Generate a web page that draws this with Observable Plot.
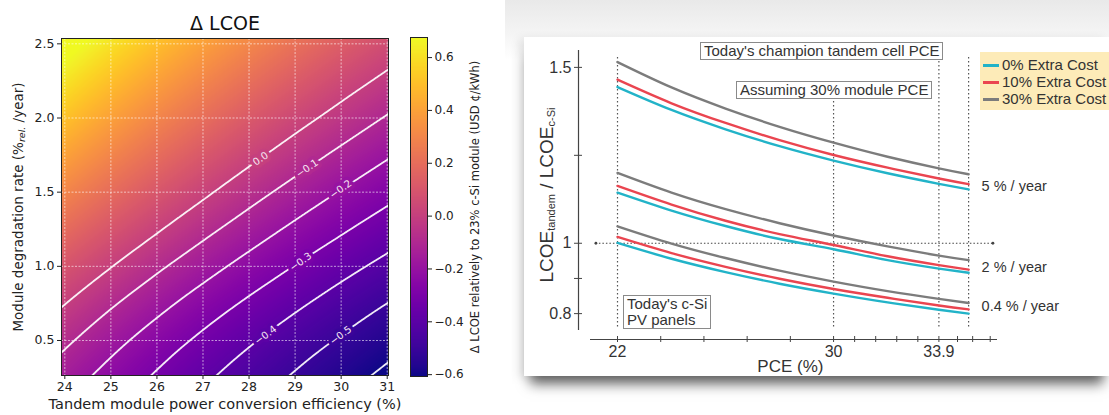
<!DOCTYPE html>
<html><head><meta charset="utf-8">
<script src="https://cdn.jsdelivr.net/npm/d3@7"></script>
<script src="https://cdn.jsdelivr.net/npm/@observablehq/plot@0.6"></script>
<style>
html,body{margin:0;padding:0;background:#fff;width:1109px;height:415px;overflow:hidden;position:relative}
.abs{position:absolute}
#rightbg{left:505px;top:0;width:604px;height:415px;background:linear-gradient(#e9e9e9 0px,#f3f3f3 30px,#fff 60px)}
#card{left:524px;top:37px;width:585px;height:339px;background:#fff;box-shadow:0 14px 12px -6px rgba(0,0,0,.6),-5px 2px 9px rgba(0,0,0,.10)}
.box{position:absolute;border:1px solid #8a8a8a;background:#fff;font:15px "Liberation Sans",Arial,sans-serif;color:#333;white-space:nowrap;line-height:16px;padding:0 3px}
.leg{position:absolute;left:980px;top:52px;width:140px;height:58px;background:#fdebb8}
.legrow{position:absolute;left:3px;font:15px "Liberation Sans",Arial,sans-serif;color:#333;white-space:nowrap;line-height:16px}
.legrow span{display:inline-block;width:16px;height:3px;vertical-align:middle;margin-right:3px;margin-top:-2px}
</style></head><body>
<div id="left" class="abs" style="left:0;top:0"></div>
<div id="cbar" class="abs" style="left:400px;top:0"></div>
<div id="rightbg" class="abs"></div>
<div id="card" class="abs"></div>
<div id="right" class="abs" style="left:524px;top:37px"></div>
<div id="annot"></div>
<script>
// ---------------- Left panel: Δ LCOE heat map ----------------
const leftTitle = "Δ LCOE";
const leftXLabel = "Tandem module power conversion efficiency (%)";
const effDomain = [23.928, 31.028];
const degDomain = [0.264, 2.536];
const effTicks = [24, 25, 26, 27, 28, 29, 30, 31];
const degTicks = [0.5, 1.0, 1.5, 2.0, 2.5];
const gridEff = [23, 24, 25, 26, 27, 28, 29, 30, 31, 32];
const gridDeg = [0.2, 0.45, 0.7, 0.95, 1.2, 1.45, 1.7, 1.95, 2.2, 2.45, 2.7];
// Δ LCOE (rows follow gridDeg, columns follow gridEff)
const dLCOE = [
  [-0.079, -0.168, -0.250, -0.326, -0.396, -0.461, -0.522, -0.579, -0.632, -0.681],
  [-0.005, -0.097, -0.182, -0.261, -0.334, -0.401, -0.464, -0.522, -0.577, -0.629],
  [ 0.081, -0.015, -0.104, -0.185, -0.261, -0.331, -0.396, -0.457, -0.514, -0.567],
  [ 0.177,  0.077, -0.015, -0.100, -0.178, -0.251, -0.319, -0.383, -0.442, -0.498],
  [ 0.281,  0.176,  0.080, -0.008, -0.090, -0.166, -0.237, -0.303, -0.365, -0.423],
  [ 0.387,  0.278,  0.178,  0.086,  0.001, -0.079, -0.153, -0.222, -0.286, -0.347],
  [ 0.495,  0.382,  0.278,  0.182,  0.093,  0.010, -0.067, -0.139, -0.206, -0.269],
  [ 0.605,  0.488,  0.379,  0.279,  0.187,  0.100,  0.020, -0.054, -0.124, -0.190],
  [ 0.717,  0.595,  0.482,  0.378,  0.282,  0.192,  0.109,  0.031, -0.041, -0.110],
  [ 0.831,  0.703,  0.586,  0.478,  0.378,  0.286,  0.199,  0.118,  0.043, -0.028],
  [ 0.945,  0.813,  0.692,  0.580,  0.476,  0.380,  0.290,  0.206,  0.128,  0.055]
];
const contourLevels = [-0.6, -0.5, -0.4, -0.3, -0.2, -0.1, 0.0];
const contourLabels = [
  {level: 0.0,  eff: 28.25, deg: 1.725, angle: -34},
  {level: -0.1, eff: 29.26, deg: 1.66,  angle: -35},
  {level: -0.2, eff: 29.99, deg: 1.52,  angle: -36},
  {level: -0.3, eff: 29.12, deg: 1.03,  angle: -36},
  {level: -0.4, eff: 28.36, deg: 0.536, angle: -37},
  {level: -0.5, eff: 29.99, deg: 0.535, angle: -37}
];
const cbarDomain = [-0.607, 0.676];
const cbarTicks = [-0.6, -0.4, -0.2, 0.0, 0.2, 0.4, 0.6];
const cbarLabel = "Δ LCOE relatively to 23% c-Si module (USD ¢/kWh)";

// smooth (Catmull-Rom) lookup into the read grid, used only to render the image
function gridAt(i, j) {
  const ni = gridDeg.length, nj = gridEff.length;
  if (i < 0) return 2 * gridAt(0, j) - gridAt(1, j);
  if (i >= ni) return 2 * gridAt(ni - 1, j) - gridAt(ni - 2, j);
  if (j < 0) return 2 * gridAt(i, 0) - gridAt(i, 1);
  if (j >= nj) return 2 * gridAt(i, nj - 1) - gridAt(i, nj - 2);
  return dLCOE[i][j];
}
function cr(p0, p1, p2, p3, t) {
  return 0.5 * (2 * p1 + (-p0 + p2) * t + (2 * p0 - 5 * p1 + 4 * p2 - p3) * t * t + (-p0 + 3 * p1 - 3 * p2 + p3) * t * t * t);
}
function lookup(x, y) {
  const nj = gridEff.length, ni = gridDeg.length;
  const fx = Math.max(0, Math.min(nj - 1, (x - gridEff[0]) / (gridEff[1] - gridEff[0])));
  const fy = Math.max(0, Math.min(ni - 1, (y - gridDeg[0]) / (gridDeg[1] - gridDeg[0])));
  const j0 = Math.min(nj - 2, Math.floor(fx)), i0 = Math.min(ni - 2, Math.floor(fy));
  const tx = fx - j0, ty = fy - i0;
  const rows = [-1, 0, 1, 2].map(r => cr(gridAt(i0 + r, j0 - 1), gridAt(i0 + r, j0), gridAt(i0 + r, j0 + 1), gridAt(i0 + r, j0 + 2), tx));
  return cr(rows[0], rows[1], rows[2], rows[3], ty);
}

const fmt1 = d3.format(".1f");
const colorOpts = {type: "sequential", scheme: "plasma", domain: cbarDomain, clamp: true};
const mplFont = "'DejaVu Sans', sans-serif";

const left = Plot.plot({
  width: 400, height: 415,
  marginLeft: 61, marginRight: 12, marginTop: 38, marginBottom: 40,
  style: {fontFamily: mplFont, fontSize: "12.5px", color: "#222", background: "transparent", overflow: "visible"},
  x: {domain: effDomain},
  y: {domain: degDomain},
  color: colorOpts,
  marks: [
    Plot.raster({fill: lookup, x1: effDomain[0], x2: effDomain[1], y1: degDomain[0], y2: degDomain[1], pixelSize: 1}),
    Plot.gridX(effTicks, {stroke: "white", strokeOpacity: 0.75, strokeDasharray: "2,1.5", strokeWidth: 0.8}),
    Plot.gridY(degTicks, {stroke: "white", strokeOpacity: 0.75, strokeDasharray: "2,1.5", strokeWidth: 0.8}),
    Plot.contour({value: lookup, thresholds: contourLevels,
      x1: 23.8, x2: 31.15, y1: 0.2, y2: 2.6, pixelSize: 1, fill: "none", stroke: "white",
      strokeWidth: 1.8, strokeOpacity: 0.92, clip: true}),
    Plot.text(contourLabels, {x: "eff", y: "deg", text: d => fmt1(d.level), rotate: "angle",
      fill: "#f6e6f2", stroke: "level", strokeWidth: 7, fontSize: 10, fontFamily: mplFont}),
    Plot.frame({stroke: "#222", strokeWidth: 1}),
    Plot.axisX(effTicks, {tickSize: 4, tickPadding: 3, fontSize: 12.5, label: null}),
    Plot.axisY(degTicks, {tickSize: 4, tickPadding: 3, fontSize: 12.5, tickFormat: fmt1, label: null}),
    Plot.text([leftTitle], {frameAnchor: "top", dy: -15, lineAnchor: "middle", textAnchor: "middle", fontSize: 19, fill: "#111"}),
    Plot.text([leftXLabel], {frameAnchor: "bottom", dy: 29, lineAnchor: "middle", textAnchor: "middle", fontSize: 14.5, fill: "#222"})
  ]
});
document.getElementById("left").appendChild(left);
{
  const svg = d3.select(left);
  const t = svg.append("text")
    .attr("transform", "translate(19,207) rotate(-90)")
    .attr("text-anchor", "middle").attr("dominant-baseline", "middle")
    .attr("font-family", "DejaVu Sans").attr("font-size", 13.5).attr("fill", "#222");
  t.append("tspan").text("Module degradation rate (%");
  t.append("tspan").attr("dy", 3).attr("font-size", 9.5).attr("font-style", "italic").text("rel.");
  t.append("tspan").attr("dy", -3).text(" /year)");
}

const cbar = Plot.plot({
  width: 105, height: 415,
  marginLeft: 10, marginRight: 78, marginTop: 37, marginBottom: 39,
  style: {fontFamily: mplFont, fontSize: "12px", color: "#222", background: "transparent", overflow: "visible"},
  x: {domain: [0, 1], axis: null},
  y: {domain: cbarDomain},
  color: colorOpts,
  marks: [
    Plot.raster({x1: 0, x2: 1, y1: cbarDomain[0], y2: cbarDomain[1], fill: (x, y) => y, pixelSize: 1}),
    Plot.frame({stroke: "#222", strokeWidth: 1}),
    Plot.axisY(cbarTicks, {anchor: "right", tickSize: 4, tickPadding: 3, fontSize: 12, tickFormat: fmt1, label: null}),
    Plot.text([cbarLabel], {frameAnchor: "right", dx: 48, rotate: -90, textAnchor: "middle", lineAnchor: "middle", fontSize: 11.5, fill: "#222"})
  ]
});
document.getElementById("cbar").appendChild(cbar);

// ---------------- Right panel: LCOE ratio vs PCE ----------------
const pce = [22, 24, 26, 28, 30, 32, 33.9, 35];
const rate5_cost0   = [1.444, 1.379, 1.324, 1.276, 1.235, 1.199, 1.169, 1.153];
const rate5_cost10  = [1.465, 1.398, 1.342, 1.293, 1.251, 1.215, 1.184, 1.168];
const rate5_cost30  = [1.515, 1.443, 1.383, 1.331, 1.286, 1.246, 1.213, 1.196];
const rate2_cost0   = [1.144, 1.093, 1.049, 1.012, 0.983, 0.952, 0.928, 0.916];
const rate2_cost10  = [1.163, 1.110, 1.064, 1.026, 0.995, 0.963, 0.938, 0.925];
const rate2_cost30  = [1.200, 1.144, 1.097, 1.057, 1.022, 0.991, 0.965, 0.952];
const rate04_cost0  = [1.001, 0.956, 0.918, 0.885, 0.857, 0.832, 0.811, 0.800];
const rate04_cost10 = [1.018, 0.972, 0.933, 0.899, 0.870, 0.845, 0.823, 0.812];
const rate04_cost30 = [1.048, 0.999, 0.958, 0.922, 0.891, 0.864, 0.842, 0.830];
const costLabels = ["0% Extra Cost", "10% Extra Cost", "30% Extra Cost"];
const costColors = ["#22b3c8", "#ea4550", "#7c7c7c"];
const rateLabels = ["5 % / year", "2 % / year", "0.4 % / year"];
const rateLabelY = [1.162, 0.932, 0.821];
const yTicks = [0.8, 0.9, 1, 1.25, 1.5];
const yTickText = {0.8: "0.8", 1: "1", 1.5: "1.5"};
const xTicks = [22, 23.6, 25.2, 26.8, 28.4, 30, 30.78, 31.56, 32.34, 33.12, 33.9, 34.59, 35.15, 35.8];
const xTickText = {22: "22", 30: "30", 33.9: "33.9"};
const refPCE = [22, 30, 33.9, 35];
const refTop = [1.528, 1.409, 1.52, 1.528];
const rightXLabel = "PCE (%)";

const seriesTable = [
  [rateLabels[0], costLabels[0], rate5_cost0], [rateLabels[0], costLabels[1], rate5_cost10], [rateLabels[0], costLabels[2], rate5_cost30],
  [rateLabels[1], costLabels[0], rate2_cost0], [rateLabels[1], costLabels[1], rate2_cost10], [rateLabels[1], costLabels[2], rate2_cost30],
  [rateLabels[2], costLabels[0], rate04_cost0], [rateLabels[2], costLabels[1], rate04_cost10], [rateLabels[2], costLabels[2], rate04_cost30]
];
const lineData = seriesTable.flatMap(([rate, cost, vals]) =>
  pce.map((x, i) => ({pce: x, ratio: vals[i], cost, key: rate + "|" + cost})));
const refData = refPCE.map((x, i) => ({pce: x, top: refTop[i]}));
const rateData = rateLabels.map((t, i) => ({text: t, y: rateLabelY[i]}));
const arial = "'Liberation Sans', Arial, sans-serif";

const right = Plot.plot({
  width: 585, height: 339,
  marginLeft: 66, marginRight: 112, marginTop: 13, marginBottom: 46,
  style: {fontFamily: arial, fontSize: "16px", color: "#333", background: "transparent", overflow: "visible"},
  x: {domain: [21, 36.07]},
  y: {domain: [0.752, 1.548]},
  color: {type: "ordinal", domain: costLabels, range: costColors},
  marks: [
    Plot.ruleX(refData, {x: "pce", y1: 0.762, y2: "top", stroke: "#555", strokeWidth: 1.2, strokeDasharray: "1.5,2.5"}),
    Plot.ruleY([1], {x1: 21.2, x2: 35.9, stroke: "#444", strokeWidth: 1.2, strokeDasharray: "1.5,2"}),
    Plot.dot([21.2, 35.9], {x: d => d, y: () => 1, r: 1.4, fill: "#444", stroke: null}),
    Plot.line(lineData, {x: "pce", y: "ratio", z: "key", stroke: "cost", strokeWidth: 2.4, curve: "natural"}),
    Plot.text(rateData, {x: () => 35, y: "y", text: "text", dx: 13, textAnchor: "start", fontSize: 14.5, fill: "#333"}),
    Plot.ruleX([20.556], {y1: 0.752, y2: 1.548, stroke: "#444", strokeWidth: 1.2}),
    Plot.ruleY([0.7264], {x1: 21, x2: 36.07, stroke: "#444", strokeWidth: 1.2}),
    Plot.axisY(yTicks, {tickSize: 8, dx: -8, tickPadding: 3, fontSize: 16, tickFormat: d => yTickText[d] ?? "", label: null, stroke: "#444"}),
    Plot.axisX(xTicks, {tickSize: 6, dy: 6, tickPadding: 3, fontSize: 16, tickFormat: d => xTickText[d] ?? "", label: null, stroke: "#444"}),
    Plot.text([rightXLabel], {x: () => 28.4, frameAnchor: "bottom", dy: 36, lineAnchor: "middle", fontSize: 17, fill: "#333"})
  ]
});
document.getElementById("right").appendChild(right);
{
  const svg = d3.select(right);
  const t = svg.append("text")
    .attr("transform", "translate(24,158) rotate(-90)")
    .attr("text-anchor", "middle").attr("dominant-baseline", "middle")
    .attr("font-family", "Liberation Sans, Arial, sans-serif").attr("font-size", 19).attr("fill", "#333");
  t.append("tspan").text("LCOE");
  t.append("tspan").attr("dy", 4).attr("font-size", 11).text("tandem");
  t.append("tspan").attr("dy", -4).text(" / LCOE");
  t.append("tspan").attr("dy", 4).attr("font-size", 11).text("c-Si");
}

const annot = d3.select("#annot");
const boxes = [
  {text: "Today's champion tandem cell PCE", left: 700, top: 42},
  {text: "Assuming 30% module PCE", left: 736, top: 81},
  {text: "Today's c-Si<br>PV panels", left: 623, top: 295}
];
boxes.forEach(b => annot.append("div").attr("class", "box")
  .style("left", b.left + "px").style("top", b.top + "px").html(b.text));
const leg = annot.append("div").attr("class", "leg");
costLabels.forEach((c, i) => {
  const row = leg.append("div").attr("class", "legrow").style("top", (5 + i * 17) + "px");
  row.append("span").style("background", costColors[i]);
  row.append("text").text(c);
});
</script>
</body></html>
